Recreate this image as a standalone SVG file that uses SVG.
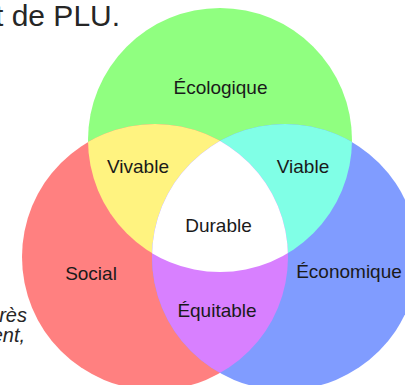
<svg xmlns="http://www.w3.org/2000/svg" width="405" height="385" viewBox="0 0 405 385">
  <style>
    .label { font-family: "Liberation Sans", Arial, sans-serif; font-size: 19px; fill: #1a1a1a; text-anchor: middle; }
    .body { font-family: "Liberation Sans", Arial, sans-serif; fill: #262626; }
  </style>
  <defs>
    <circle id="c-eco" cx="220" cy="140" r="132"/>
    <circle id="c-soc" cx="155" cy="257" r="133"/>
    <circle id="c-econ" cx="285" cy="257" r="133"/>
    <clipPath id="clip-eco"><use href="#c-eco"/></clipPath>
    <clipPath id="clip-econ"><use href="#c-econ"/></clipPath>
  </defs>

  <rect width="405" height="385" fill="#ffffff"/>

  <!-- surrounding page text -->
  <text class="body" x="-5" y="26" font-size="30">t de PLU.</text>
  <text class="body" x="27" y="322" font-size="20" font-style="italic" text-anchor="end">rès</text>
  <text class="body" x="25" y="342" font-size="20" font-style="italic" text-anchor="end">ent,</text>

  <!-- three pillars -->
  <g id="ecologique">
    <use href="#c-eco" fill="#90ff80"/>
  </g>
  <g id="social">
    <use href="#c-soc" fill="#ff8080"/>
  </g>
  <g id="economique">
    <use href="#c-econ" fill="#809cff"/>
  </g>

  <!-- pairwise overlaps -->
  <g id="vivable">
    <use href="#c-soc" fill="#fff380" clip-path="url(#clip-eco)"/>
  </g>
  <g id="viable">
    <use href="#c-econ" fill="#80ffe6" clip-path="url(#clip-eco)"/>
  </g>
  <g id="equitable">
    <use href="#c-soc" fill="#d880ff" clip-path="url(#clip-econ)"/>
  </g>

  <!-- centre: all three -->
  <g id="durable">
    <g clip-path="url(#clip-econ)">
      <use href="#c-soc" fill="#ffffff" clip-path="url(#clip-eco)"/>
    </g>
  </g>

  <!-- labels -->
  <g id="labels">
    <text class="label" x="220.5" y="94">Écologique</text>
    <text class="label" x="138" y="173">Vivable</text>
    <text class="label" x="303" y="173">Viable</text>
    <text class="label" x="218.5" y="232">Durable</text>
    <text class="label" x="91" y="280">Social</text>
    <text class="label" x="349" y="278">Économique</text>
    <text class="label" x="217" y="317">Équitable</text>
  </g>
</svg>
